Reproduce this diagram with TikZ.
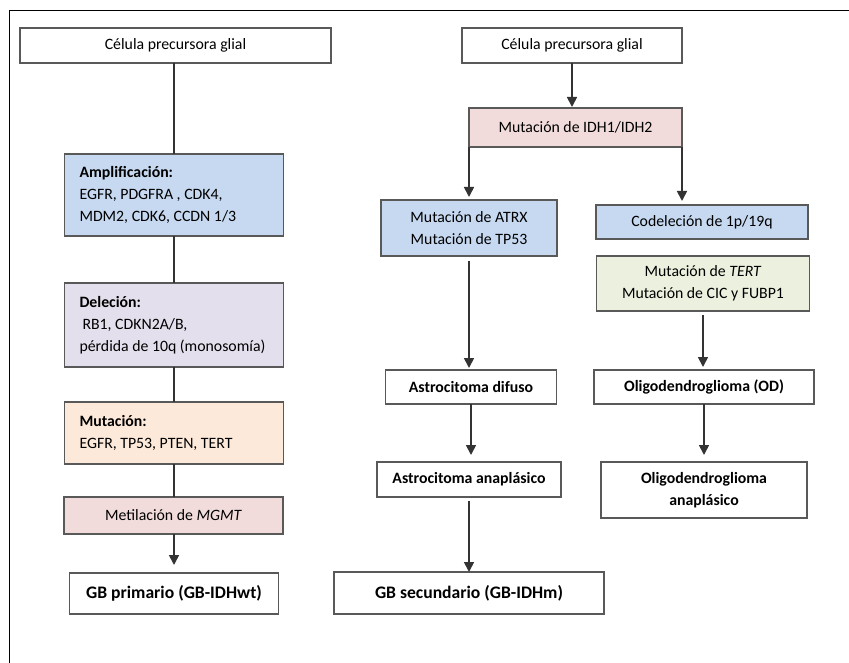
\documentclass[tikz,border=0pt]{standalone}
\usepackage{fontspec}
\setmainfont{Carlito}
\usetikzlibrary{arrows.meta}
\definecolor{boxblue}{HTML}{C6D9F1}
\definecolor{boxlilac}{HTML}{E4DFEC}
\definecolor{boxpeach}{HTML}{FDE9D9}
\definecolor{boxpink}{HTML}{F2DCDB}
\definecolor{boxgreen}{HTML}{EBF1DE}
\begin{document}
\begin{tikzpicture}[x=1pt,y=-1pt,
  box/.style={draw=black!65, line width=1.3pt, rectangle, inner sep=0pt, outer sep=0pt,
    align=center, font=\fontsize{15.8}{22}\selectfont},
  listbox/.style={box, align=flush left, inner xsep=15pt, inner ysep=0pt, text width=#1},
  boldbox/.style={box, font=\fontsize{15.8}{22}\selectfont\bfseries},
  bigbox/.style={box, font=\fontsize{17.6}{22}\selectfont\bfseries},
  conn/.style={line width=1.7pt, draw=black!80},
  arr/.style={conn, -{Triangle[width=10pt,length=10pt]}}]
\useasboundingbox (0,0) rectangle (849,663);
% page frame (left and top edges only)
\draw[line width=1.3pt] (9.5,663) -- (9.5,10.5) -- (849,10.5);

% ---- left pathway: primary glioblastoma ----
\node[box, minimum width=311pt, minimum height=35pt] (c1) at (175.5,45.5) {Célula precursora glial};
\node[listbox=189pt, fill=boxblue, minimum height=82pt] (amp) at (174,195)
  {\textbf{Amplificación:}\\EGFR, PDGFRA , CDK4,\\MDM2, CDK6, CCDN 1/3};
\node[listbox=189pt, fill=boxlilac, minimum height=84pt] (del) at (174,325)
  {\textbf{Deleción:}\\\hspace*{3pt}RB1, CDKN2A/B,\\\mbox{pérdida de 10q (monosomía)}};
\node[listbox=189pt, fill=boxpeach, minimum height=62pt] (mut) at (174,433)
  {\textbf{Mutación:}\\EGFR, TP53, PTEN, TERT};
\node[box, fill=boxpink, minimum width=219pt, minimum height=37pt] (met) at (173.5,515.5)
  {Metilación de \textit{MGMT}};
\node[bigbox, minimum width=209pt, minimum height=41pt] (gbp) at (174,593.5)
  {GB primario (GB-IDHwt)};

\draw[conn] (c1.south -| amp.north) -- (amp.north);
\draw[conn] (amp.south) -- (del.north);
\draw[conn] (del.south) -- (mut.north);
\draw[conn] (mut.south) -- (mut.south |- met.north);
\draw[arr, shorten >=8pt] (met.south -| gbp.north) -- (gbp.north);

% ---- right pathway: IDH-mutant gliomas ----
\node[box, minimum width=220pt, minimum height=35pt] (c2) at (572,45.5) {Célula precursora glial};
\node[box, fill=boxpink, minimum width=213pt, minimum height=39pt] (idh) at (575.5,127.5)
  {Mutación de IDH1/IDH2};
\node[box, fill=boxblue, minimum width=176pt, minimum height=56pt] (atrx) at (469,228)
  {Mutación de ATRX\\Mutación de TP53};
\node[box, fill=boxblue, minimum width=212pt, minimum height=34pt] (codel) at (702,222)
  {Codeleción de 1p/19q};
\node[box, fill=boxgreen, minimum width=213pt, minimum height=55pt] (tert) at (703,283.5)
  {Mutación de \textit{TERT}\\Mutación de CIC y FUBP1};
\node[boldbox, minimum width=171pt, minimum height=34pt] (ad) at (471,387)
  {Astrocitoma difuso};
\node[boldbox, minimum width=184pt, minimum height=35pt] (aa) at (469,479.5)
  {Astrocitoma anaplásico};
\node[bigbox, minimum width=270pt, minimum height=42pt] (gbs) at (469,593)
  {GB secundario (GB-IDHm)};
\node[boldbox, minimum width=220pt, minimum height=34pt] (od) at (704,387)
  {Oligodendroglioma (OD)};
\node[boldbox, minimum width=206pt, minimum height=56pt] (oa) at (704,490)
  {Oligodendroglioma\\anaplásico};

\draw[arr, shorten >=1pt] (c2.south) -- (c2.south |- idh.north);
\draw[arr, shorten >=3pt] (idh.south west) -- (idh.south west |- atrx.north);
\draw[arr, shorten >=4pt] (idh.south east) -- (idh.south east |- codel.north);
\draw[arr, shorten <=5pt, shorten >=2pt] (atrx.south) -- (atrx.south |- ad.north);
\draw[arr, shorten >=7pt] (ad.south) -- (ad.south |- aa.north);
\draw[arr, shorten <=4pt] (aa.south) -- (aa.south |- gbs.north);
\draw[arr, shorten <=4pt, shorten >=3pt] (tert.south) -- (tert.south |- od.north);
\draw[arr, shorten >=7pt] (od.south) -- (od.south |- oa.north);
\end{tikzpicture}
\end{document}
